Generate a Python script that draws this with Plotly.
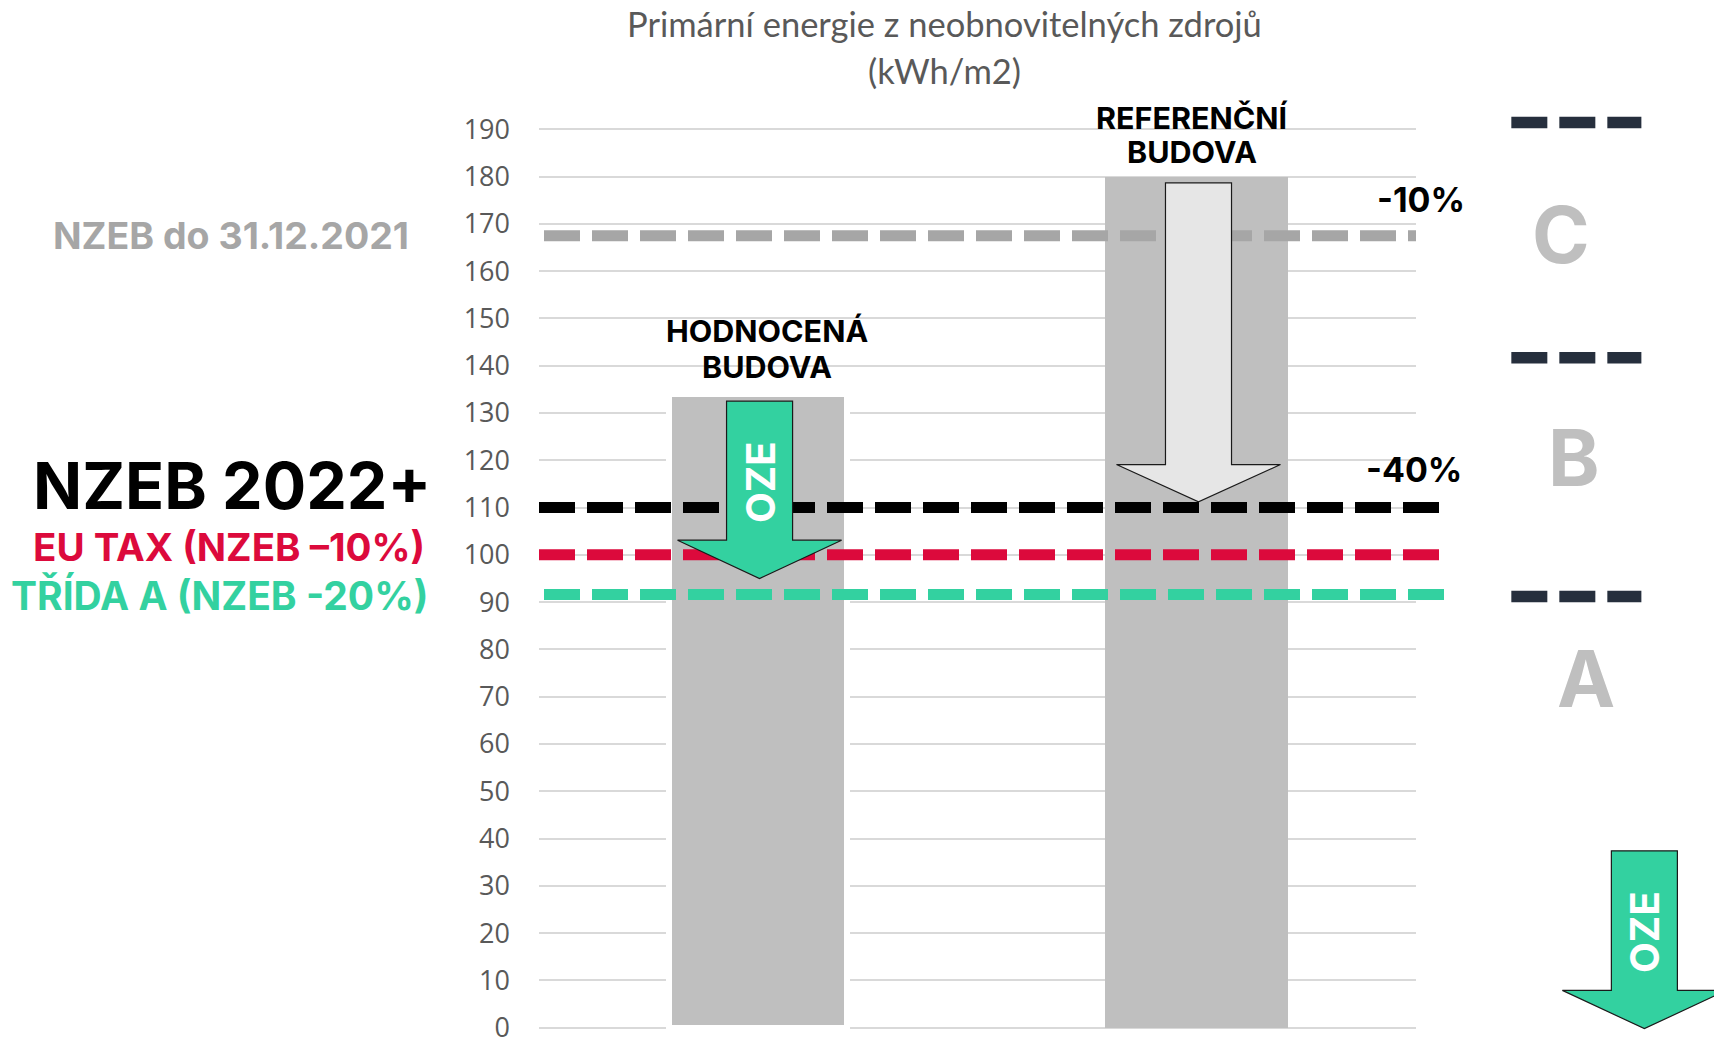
import plotly.graph_objects as go

# ---------------------------------------------------------------- data
building_names = ["HODNOCENÁ BUDOVA", "REFERENČNÍ BUDOVA"]
building_pos = [0.5, 1.5]
building_energy = [134, 180]          # kWh/m2
bar_widths = [0.406, 0.418]

# threshold levels (kWh/m2)
nzeb_2021 = 167.5
nzeb_2022 = 110
eu_tax = 100
trida_a = 91.6

y_ticks = list(range(0, 200, 10))

# arrows drawn inside the bars: [top of shaft, start of head, tip] in kWh/m2
oze_arrow = [132.5, 103.1, 95.0]
ref_arrow = [178.7, 119.1, 111.2]

percent_labels = ["-10%", "-40%"]
class_labels = ["C", "B", "A"]

left_labels = [
    "NZEB do 31.12.2021",
    "NZEB 2022+",
    "EU TAX (NZEB –10%)",
    "TŘÍDA A (NZEB -20%)",
]

# ---------------------------------------------------------------- layout helpers
W, H = 1714, 1057
PL, PR = 539.0, 1415.7            # plot area, px
PT, PB = 126.93, 1033.07

GREEN = "#33d1a0"
RED = "#dc0a3c"
GREY_TXT = "#595959"
BOLD = "Inter"


def fx(p):
    return (p - PL) / (PR - PL)


def fy(p):
    return (PB - p) / (PB - PT)


def arrow_path(xc, shaft, head, top, neck, tip):
    pts = [
        (xc - shaft, top), (xc + shaft, top), (xc + shaft, neck),
        (xc + head, neck), (xc, tip), (xc - head, neck), (xc - shaft, neck),
    ]
    return "M " + " L ".join(f"{x},{y}" for x, y in pts) + " Z"


fig = go.Figure()

fig.add_trace(go.Bar(
    x=building_pos,
    y=building_energy,
    width=bar_widths,
    hovertext=building_names,
    hoverinfo="text+y",
    marker=dict(color="#bfbfbf", line=dict(color="white", width=[6, 0])),
))

shapes = []

# horizontal threshold lines
for val, col, x0, x1 in [
    (nzeb_2021, "#a6a6a6", 544, 1415.7),
    (nzeb_2022, "#000000", 539, 1439),
    (eu_tax, RED, 539, 1439),
    (trida_a, GREEN, 544, 1443.7),
]:
    shapes.append(dict(
        type="line", xref="paper", yref="y",
        x0=fx(x0), x1=fx(x1), y0=val, y1=val,
        line=dict(color=col, width=11, dash="36px,12px"),
        layer="above",
    ))

# arrows inside the bars (data coordinates)
shaft_hw, head_hw = 0.0753, 0.187
shapes.append(dict(
    type="path", xref="x", yref="y",
    path=arrow_path(building_pos[0] + 0.003, shaft_hw, head_hw, *oze_arrow),
    fillcolor=GREEN, line=dict(color="#1a1a1a", width=1.2), layer="above",
))
shapes.append(dict(
    type="path", xref="x", yref="y",
    path=arrow_path(building_pos[1] + 0.004, shaft_hw, head_hw, *ref_arrow),
    fillcolor="#e6e6e6", line=dict(color="#1a1a1a", width=1.2), layer="above",
))

# class boundary markers on the right
for yp in [122.5, 358.5, 598.0]:
    shapes.append(dict(
        type="line", xref="paper", yref="paper",
        x0=fx(1511), x1=fx(1641), y0=fy(yp), y1=fy(yp),
        line=dict(color="#262f3d", width=11.5, dash="36px,12px"),
        layer="above",
    ))

# free-standing OZE arrow bottom right
xc = 1644
pts = [
    (xc - 33, 853.3), (xc + 33, 853.3), (xc + 33, 993.3), (xc + 82, 993.3),
    (xc, 1031.7), (xc - 82, 993.3), (xc - 33, 993.3),
]
shapes.append(dict(
    type="path", xref="paper", yref="paper",
    path="M " + " L ".join(f"{fx(a)},{fy(b)}" for a, b in pts) + " Z",
    fillcolor=GREEN, line=dict(color="#1a1a1a", width=1.2), layer="above",
))

annotations = []


def txt(text, x, y, size, color, family=BOLD, weight=700, angle=0,
        xref="paper", yref="paper", xanchor="center", yanchor="middle",
        xshift=0, yshift=0):
    annotations.append(dict(
        text=text, x=x, y=y, xref=xref, yref=yref, showarrow=False,
        xanchor=xanchor, yanchor=yanchor, textangle=angle,
        xshift=xshift, yshift=yshift,
        font=dict(family=family, size=size, color=color, weight=weight),
    ))


# title
txt("Primární energie z neobnovitelných zdrojů", fx(944), fy(23), 34.5,
    GREY_TXT, family="Lato", weight=400)
txt("(kWh/m2)", fx(944), fy(70), 34.5, GREY_TXT, family="Lato", weight=400)

# left legend texts
txt(left_labels[0], fx(231.5), fy(236), 37.5, "#a6a6a6")
txt(left_labels[1], fx(232), fy(487.5), 64.5, "#000000")
txt(left_labels[2], fx(229.5), fy(548.3), 38.5, RED)
txt(left_labels[3], fx(220), fy(597), 39, GREEN)

# building labels above the bars, one annotation per line
for i, (l1, l2) in enumerate([("HODNOCENÁ", "BUDOVA"), ("REFERENČNÍ", "BUDOVA")]):
    top_shift = [63.5, 59.3][i]
    gap = [35.5, 34.5][i]
    dx = [9, -5][i]
    txt(l1, building_pos[i], building_energy[i], 30.5, "#000000",
        xref="x", yref="y", xshift=dx, yshift=top_shift)
    txt(l2, building_pos[i], building_energy[i], 30.5, "#000000",
        xref="x", yref="y", xshift=dx, yshift=top_shift - gap)

# reduction percentages
txt(percent_labels[0], fx(1421), fy(200), 34, "#000000")
txt(percent_labels[1], fx(1414), fy(471), 34, "#000000")

# energy classes
for lab, xp, yp in zip(class_labels, [1561, 1574, 1586], [235, 459, 680]):
    txt(lab, fx(xp), fy(yp), 78, "#bfbfbf")

# OZE labels inside green arrows
txt("OZE", fx(760.5), fy(483.7), 40, "#ffffff", angle=-90)
txt("OZE", fx(1644.8), fy(934.5), 40, "#ffffff", angle=-90)

fig.update_layout(
    width=W, height=H,
    margin=dict(l=PL, r=W - PR, t=PT, b=H - PB, pad=0),
    paper_bgcolor="white", plot_bgcolor="white",
    showlegend=False,
    bargap=0,
    shapes=shapes,
    annotations=annotations,
    xaxis=dict(range=[0, 2], visible=False, fixedrange=True),
    yaxis=dict(
        range=[-0.5, 190.5], tickvals=y_ticks, ticktext=[str(v) for v in y_ticks],
        showgrid=True, gridcolor="#d9d9d9", gridwidth=2,
        zeroline=False, showline=False, ticks="",
        tickfont=dict(family="Open Sans", size=27, color=GREY_TXT),
        ticklabelstandoff=28, fixedrange=True,
    ),
)

fig.write_html("out.html")
